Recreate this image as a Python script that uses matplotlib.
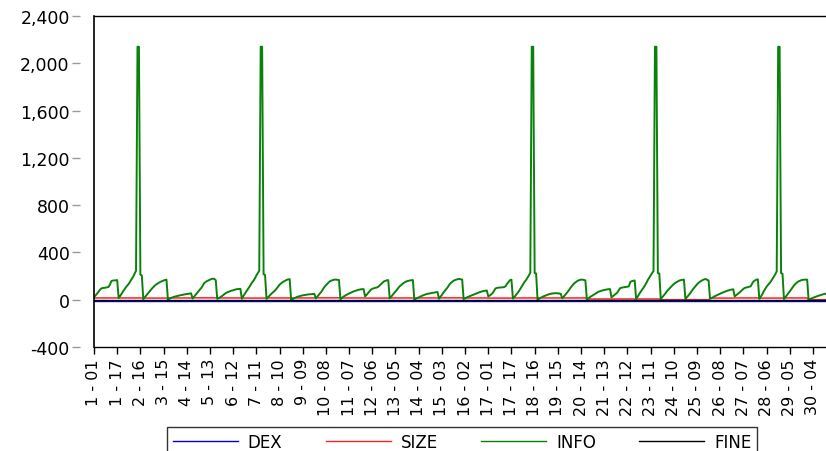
import numpy as np
import matplotlib
matplotlib.use("Agg")
import matplotlib.pyplot as plt
from matplotlib.ticker import FuncFormatter

# ---------------- data (30 cross-sections x 17 periods) ----------------
periods_per_section = 17

info_sections = [
    [23, 35, 50, 65, 82, 95, 99, 100, 102, 105, 108, 127, 158, 162, 163, 164, 166],
    [14, 30, 50, 70, 88, 105, 120, 135, 155, 175, 195, 220, 245, 2140, 2140, 212, 205],
    [5, 20, 35, 50, 65, 80, 95, 108, 120, 130, 138, 145, 152, 157, 162, 167, 170],
    [0, 8, 14, 19, 23, 27, 30, 33, 36, 39, 41, 44, 46, 48, 50, 52, 54],
    [10, 25, 40, 55, 70, 85, 100, 118, 140, 150, 158, 164, 170, 175, 178, 176, 165],
    [8, 14, 20, 28, 38, 48, 57, 63, 68, 73, 77, 80, 84, 88, 90, 91, 92],
    [8, 30, 50, 68, 85, 105, 125, 145, 160, 180, 205, 225, 245, 2140, 2140, 215, 210],
    [8, 20, 32, 45, 58, 68, 80, 95, 110, 127, 138, 148, 155, 162, 168, 172, 174],
    [0, 6, 12, 18, 23, 27, 30, 34, 37, 39, 41, 43, 45, 46, 47, 48, 50],
    [12, 25, 40, 55, 70, 90, 108, 122, 135, 148, 158, 163, 167, 170, 170, 168, 167],
    [5, 15, 25, 33, 40, 47, 53, 58, 64, 70, 74, 78, 82, 85, 88, 89, 90],
    [28, 40, 55, 70, 85, 92, 97, 100, 103, 108, 120, 132, 145, 155, 160, 164, 166],
    [12, 25, 40, 55, 70, 85, 100, 115, 125, 135, 145, 152, 157, 160, 163, 165, 166],
    [0, 8, 14, 20, 26, 32, 37, 42, 46, 49, 52, 54, 57, 59, 61, 63, 65],
    [8, 25, 40, 60, 75, 90, 105, 125, 140, 150, 160, 166, 170, 174, 176, 173, 170],
    [5, 12, 18, 24, 29, 34, 39, 44, 48, 53, 58, 63, 68, 71, 74, 76, 78],
    [28, 35, 45, 57, 75, 95, 100, 102, 103, 104, 105, 107, 115, 135, 150, 165, 170],
    [10, 22, 38, 55, 70, 90, 110, 130, 150, 165, 185, 205, 228, 2140, 2140, 226, 222],
    [0, 8, 15, 22, 28, 33, 38, 43, 47, 50, 52, 54, 55, 55, 54, 52, 50],
    [12, 25, 40, 55, 70, 88, 105, 120, 135, 145, 155, 162, 166, 170, 170, 167, 164],
    [5, 13, 20, 28, 36, 44, 52, 60, 67, 72, 76, 79, 82, 85, 87, 89, 90],
    [20, 30, 40, 50, 60, 80, 98, 102, 104, 106, 108, 110, 113, 150, 157, 160, 163],
    [8, 25, 45, 65, 82, 100, 120, 140, 165, 185, 205, 225, 242, 2140, 2140, 225, 222],
    [5, 20, 35, 50, 68, 82, 95, 108, 120, 133, 142, 150, 157, 163, 166, 168, 170],
    [5, 20, 35, 50, 68, 85, 100, 115, 130, 142, 152, 160, 167, 172, 175, 168, 162],
    [8, 14, 20, 28, 34, 40, 46, 52, 57, 62, 67, 71, 76, 80, 84, 86, 88],
    [28, 38, 48, 58, 68, 80, 92, 100, 103, 106, 110, 113, 135, 155, 162, 170, 172],
    [8, 25, 45, 70, 90, 110, 125, 140, 155, 175, 195, 215, 240, 2140, 2140, 225, 220],
    [5, 20, 38, 55, 70, 88, 105, 122, 135, 145, 155, 160, 165, 168, 170, 170, 170],
    [0, 6, 11, 16, 20, 25, 30, 34, 38, 42, 46, 49, 52, 54, 56, 58, 60],
]

size_by_section = [15, 15, 14, 15, 16, 15, 14, 15, 15, 16, 15, 14, 15, 15, 16,
                   15, 14, 15, 15, 15, 6, 6, 6, 0, 0, 14, 15, 14, 15, 0]
dex_by_section = [-9] * 30
fine_by_section = [0] * 30

tick_labels = ["1 - 01", "1 - 17", "2 - 16", "3 - 15", "4 - 14", "5 - 13", "6 - 12",
               "7 - 11", "8 - 10", "9 - 09", "10 - 08", "11 - 07", "12 - 06", "13 - 05",
               "14 - 04", "15 - 03", "16 - 02", "17 - 01", "17 - 17", "18 - 16", "19 - 15",
               "20 - 14", "21 - 13", "22 - 12", "23 - 11", "24 - 10", "25 - 09", "26 - 08",
               "27 - 07", "28 - 06", "29 - 05", "30 - 04"]

y_ticks = [-400, 0, 400, 800, 1200, 1600, 2000, 2400]

# ---------------- build series ----------------
info = np.concatenate([np.asarray(s, float) for s in info_sections])
size = np.repeat(np.asarray(size_by_section, float), periods_per_section)
dex = np.repeat(np.asarray(dex_by_section, float), periods_per_section)
fine = np.repeat(np.asarray(fine_by_section, float), periods_per_section)
obs = np.arange(len(info))

def label_to_index(lbl):
    s, p = [int(v) for v in lbl.split(" - ")]
    return (s - 1) * periods_per_section + (p - 1)

tick_pos = [label_to_index(l) for l in tick_labels]

# ---------------- figure ----------------
W, H = 826, 452
fig = plt.figure(figsize=(W / 100, H / 100), dpi=100)
left_px, top_px, bottom_px = 94, 17, 348
ax = fig.add_axes([left_px / W, 1 - bottom_px / H, 1 - left_px / W, (bottom_px - top_px) / H])

l_dex, = ax.plot(obs, dex, color="#0000cc", lw=1.0, zorder=2)
l_size, = ax.plot(obs, size, color="#ff2020", lw=1.1, zorder=3)
l_info, = ax.plot(obs, info, color="#0a820a", lw=1.4, zorder=4)
l_fine, = ax.plot(obs, fine, color="black", lw=1.0, zorder=5)

ax.set_xlim(0, 505)
ax.set_ylim(-400, 2400)

for sp in ["top", "bottom"]:
    ax.spines[sp].set_color("black")
    ax.spines[sp].set_linewidth(1.0)
ax.spines["right"].set_visible(False)
# left spine pushed outward to carry the detached gray ticks; visible axis line at x=0
ax.spines["left"].set_position(("outward", 10))
ax.spines["left"].set_color("none")
ax.axvline(0, color="black", lw=1.2, zorder=6, clip_on=False)

ax.set_yticks(y_ticks)
ax.yaxis.set_major_formatter(FuncFormatter(lambda v, p: f"{int(v):,}"))
ax.tick_params(axis="y", direction="out", length=5.5, width=1.0, color="#999999",
               pad=2, labelsize=12.5, labelcolor="black")

ax.set_xticks(tick_pos)
ax.set_xticklabels(tick_labels, rotation=90, ha="center", va="top")
ax.tick_params(axis="x", direction="out", length=5, width=1.0, color="black",
               pad=3, labelsize=11.5, labelcolor="black")

for t in ax.get_xticklabels() + ax.get_yticklabels():
    t.set_family("DejaVu Sans")

# legend
handles = [l_dex, l_size, l_info, l_fine]
labels = ["DEX", "SIZE", "INFO", "FINE"]
leg = fig.legend(handles, labels, loc="upper center", bbox_to_anchor=(462 / W, 1 - 428 / H),
                 ncol=4, frameon=True, fancybox=False, edgecolor="black",
                 handlelength=3.9, columnspacing=2.6, handletextpad=0.6,
                 borderaxespad=0, borderpad=0.35,
                 prop={"family": "DejaVu Sans", "size": 12})
leg.get_frame().set_linewidth(1.0)
for h in leg.legend_handles:
    h.set_linewidth(1.0)

fig.savefig("out.png", dpi=100)
